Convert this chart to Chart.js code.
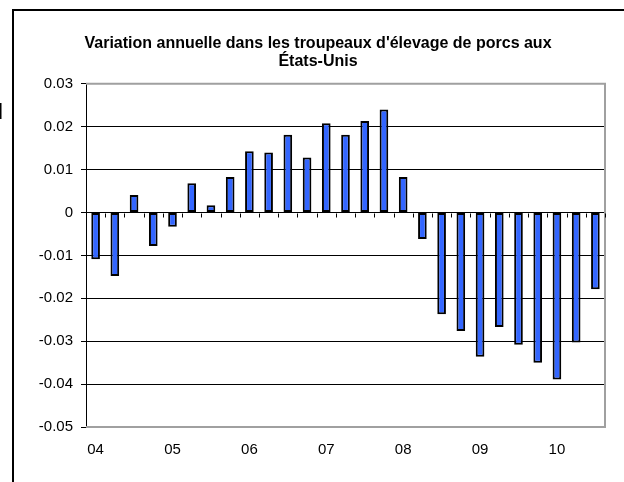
<!DOCTYPE html>
<html><head><meta charset="utf-8">
<script src="https://cdn.jsdelivr.net/npm/chart.js@4"></script>
<style>html,body{margin:0;padding:0;background:#fff}canvas{display:block}</style>
</head><body>
<canvas id="c" width="624" height="482"></canvas>
<script>
const quarters = [
  '04-T1','04-T2','04-T3','04-T4',
  '05-T1','05-T2','05-T3','05-T4',
  '06-T1','06-T2','06-T3','06-T4',
  '07-T1','07-T2','07-T3','07-T4',
  '08-T1','08-T2','08-T3','08-T4',
  '09-T1','09-T2','09-T3','09-T4',
  '10-T1','10-T2','10-T3'
];
const yearLabels = ['04','05','06','07','08','09','10'];
const herdChange = [
  -0.0109, -0.0148, 0.0041, -0.0078,
  -0.0033, 0.0068, 0.0017, 0.0083,
  0.0143, 0.0140, 0.0181, 0.0128,
  0.0208, 0.0181, 0.0213, 0.0240,
  0.0083, -0.0062, -0.0237, -0.0276,
  -0.0336, -0.0267, -0.0308, -0.0350,
  -0.0389, -0.0303, -0.0179
];
const yMin = -0.05, yMax = 0.03, yStep = 0.01;

const FONT = '"Liberation Sans", Arial, sans-serif';

const framePlugin = {
  id: 'frame',
  beforeDraw(chart) {
    const ctx = chart.ctx;
    ctx.save();
    ctx.fillStyle = '#fff';
    ctx.fillRect(0, 0, chart.width, chart.height);
    ctx.strokeStyle = '#000';
    ctx.lineWidth = 2;
    ctx.beginPath();
    ctx.moveTo(13, chart.height);
    ctx.lineTo(13, 10);
    ctx.lineTo(chart.width, 10);
    ctx.stroke();
    ctx.fillStyle = '#000';
    ctx.fillRect(0, 103, 1.5, 16);
    ctx.restore();
  }
};

const plotBorder = {
  id: 'plotBorder',
  beforeDatasetsDraw(chart) {
    const { ctx, chartArea: a, scales } = chart;
    const x = scales.x, y = scales.y;
    ctx.save();
    ctx.strokeStyle = '#a0a0a0';
    ctx.lineWidth = 2;
    ctx.beginPath();
    ctx.moveTo(a.left, a.top);
    ctx.lineTo(a.right, a.top);
    ctx.lineTo(a.right, a.bottom);
    ctx.lineTo(a.left, a.bottom);
    ctx.stroke();
    const y0 = Math.round(y.getPixelForValue(0)) + 0.5;
    ctx.strokeStyle = '#000';
    ctx.lineWidth = 1;
    ctx.beginPath();
    for (let i = 0; i <= quarters.length; i++) {
      const px = Math.round(x.getPixelForValue(i - 0.5)) + 0.5;
      ctx.moveTo(px, y0);
      ctx.lineTo(px, y0 + 4);
    }
    ctx.stroke();
    ctx.restore();
  }
};

new Chart(document.getElementById('c'), {
  type: 'bar',
  data: {
    labels: quarters,
    datasets: [{
      data: herdChange,
      backgroundColor: '#3366ff',
      borderColor: '#000',
      borderWidth: 2,
      borderSkipped: false,
      barPercentage: 0.45,
      categoryPercentage: 1
    }]
  },
  options: {
    responsive: false,
    animation: false,
    layout: { padding: { left: 12, right: 0, top: 0, bottom: 0 } },
    plugins: {
      legend: { display: false },
      tooltip: { enabled: false },
      title: {
        display: true,
        text: ["Variation annuelle dans les troupeaux d'élevage de porcs aux", 'États-Unis'],
        color: '#000',
        font: { family: FONT, size: 16, weight: 'bold', lineHeight: 1.15 },
        padding: { top: 34, bottom: 13 }
      }
    },
    scales: {
      x: {
        type: 'category',
        offset: true,
        grid: { display: false, drawTicks: false },
        border: { display: false },
        ticks: {
          autoSkip: false,
          maxRotation: 0,
          minRotation: 0,
          padding: 14,
          color: '#000',
          font: { family: FONT, size: 15 },
          callback: (v, i) => quarters[i].endsWith('T1') ? yearLabels[Math.floor(i / 4)] : ''
        },
        afterFit: s => { s.height = 55; }
      },
      y: {
        type: 'linear',
        position: 'left',
        min: yMin,
        max: yMax,
        grid: {
          color: c => (c.index === 0 || c.index === 8) ? 'rgba(0,0,0,0)' : '#000',
          tickColor: '#000',
          tickLength: 5,
          lineWidth: 1
        },
        border: { display: true, color: '#000', width: 1 },
        ticks: {
          stepSize: yStep,
          padding: 8,
          color: '#000',
          font: { family: FONT, size: 15 },
          callback: v => parseFloat(Number(v).toFixed(2)).toString()
        },
        afterFit: s => { s.width = 74; }
      },
      yRight: {
        type: 'linear',
        position: 'right',
        display: true,
        grid: { display: false, drawTicks: false },
        border: { display: false },
        ticks: { display: false },
        afterFit: s => { s.width = 19; }
      }
    }
  },
  plugins: [framePlugin, plotBorder]
});
</script>
</body></html>
